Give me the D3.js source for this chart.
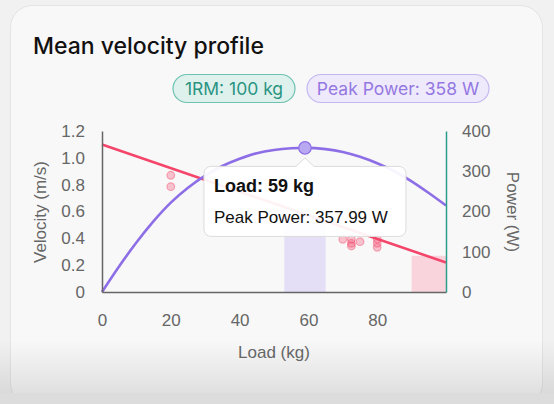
<!DOCTYPE html>
<html>
<head>
<meta charset="utf-8">
<script src="https://cdn.jsdelivr.net/npm/d3@7"></script>
<style>
    html, body { margin: 0; padding: 0; background: #f1f1f1; }
    #chart { width: 554px; height: 404px; }
</style>
</head>
<body>
<div id="chart"></div>
<script>
"use strict"

// chart values
const loadTicks = [0, 20, 40, 60, 80];
const velocityTicks = [0, 0.2, 0.4, 0.6, 0.8, 1.0, 1.2];
const powerTicks = [0, 100, 200, 300, 400];

const fitLoads = [0, 100];
const fitVelocities = [1.10, 0.22];

const powerLoads = [0, 5, 10, 15, 20, 25, 30, 35, 40, 45, 50, 55, 59, 65, 70, 75, 80, 85, 90, 95, 100];
const powerValues = [0, 64, 123, 176, 222, 259, 289, 313, 331, 345, 353, 357, 358, 355, 348, 336, 320, 300, 275, 246, 215];

const repLoads = [20, 20, 70, 72.5, 72.5, 72.5, 75, 80, 80, 80];
const repVelocities = [0.87, 0.785, 0.393, 0.393, 0.363, 0.343, 0.375, 0.393, 0.363, 0.333];

const zoneStarts = [53, 90];
const zoneEnds = [65, 100];
const zoneTops = [0.55, 0.27];
const zoneColors = ["#e4def7", "#f9d4dc"];

const peakLoad = 59;
const peakPower = 357.99;
const badgeLabels = ["1RM: 100 kg", "Peak Power: 358 W"];

let VelocityProfileView = function(targetID) {

    let self = {
        svg: null,
        x: null,
        yV: null,
        yP: null
    };

    init();

    function init() {
        self.svg = d3.select(targetID).append("svg")
            .attr("width", 554)
            .attr("height", 404);

        self.x = d3.scaleLinear().domain([0, 100]).range([102, 446]);
        self.yV = d3.scaleLinear().domain([0, 1.2]).range([292, 131]);
        self.yP = d3.scaleLinear().domain([0, 400]).range([292, 131]);

        drawCard();
        drawBadges();
        drawZones();
        drawLines();
        drawReps();
        drawAxes();
        drawTooltip();
    }

    function drawCard() {
        let defs = self.svg.append("defs");
        let grad = defs.append("linearGradient")
            .attr("id", "fade")
            .attr("x1", 0).attr("y1", 0).attr("x2", 0).attr("y2", 1);
        grad.append("stop").attr("offset", "0%").attr("stop-color", "#000").attr("stop-opacity", 0);
        grad.append("stop").attr("offset", "100%").attr("stop-color", "#000").attr("stop-opacity", 0.1);

        self.svg.append("rect")
            .attr("x", 10.5).attr("y", 5.5)
            .attr("width", 532).attr("height", 400)
            .attr("rx", 22)
            .style("fill", "#f8f8f8")
            .style("stroke", "#e4e4e4");

        self.svg.append("rect")
            .attr("x", 0).attr("y", 340)
            .attr("width", 554).attr("height", 54)
            .style("fill", "url(#fade)");

        self.svg.append("rect")
            .attr("x", 0).attr("y", 393)
            .attr("width", 554).attr("height", 11)
            .style("fill", "#dcdcdc");

        self.svg.append("text")
            .attr("x", 33).attr("y", 54)
            .style("font-family", "Inter, 'Liberation Sans', sans-serif")
            .style("font-size", "23px")
            .style("font-weight", 500)
            .style("fill", "#111")
            .text("Mean velocity profile");
    }

    function drawBadges() {
        let styles = [
            { x: 173, w: 122, fill: "#dff1ec", stroke: "#6cc1b0", color: "#2a9482" },
            { x: 307, w: 182, fill: "#efeafb", stroke: "#c5b6f2", color: "#9478e2" }
        ];
        badgeLabels.forEach(function(label, i) {
            let s = styles[i];
            self.svg.append("rect")
                .attr("x", s.x).attr("y", 74.5)
                .attr("width", s.w).attr("height", 28)
                .attr("rx", 14)
                .style("fill", s.fill)
                .style("stroke", s.stroke)
                .style("stroke-width", "1.2px");
            self.svg.append("text")
                .attr("x", s.x + s.w / 2).attr("y", 95)
                .attr("text-anchor", "middle")
                .style("font-family", "Inter, 'Liberation Sans', sans-serif")
                .style("font-size", "17.5px")
                .style("fill", s.color)
                .text(label);
        });
    }

    function drawZones() {
        zoneStarts.forEach(function(start, i) {
            self.svg.append("rect")
                .attr("x", self.x(start))
                .attr("y", self.yV(zoneTops[i]))
                .attr("width", self.x(zoneEnds[i]) - self.x(start))
                .attr("height", self.yV(0) - self.yV(zoneTops[i]))
                .style("fill", zoneColors[i]);
        });
    }

    function drawLines() {
        let fitData = fitLoads.map((l, i) => [l, fitVelocities[i]]);
        let powerData = powerLoads.map((l, i) => [l, powerValues[i]]);

        self.svg.append("path")
            .attr("d", d3.line()
                .x(d => self.x(d[0]))
                .y(d => self.yV(d[1]))(fitData))
            .style("stroke", "#f4466b")
            .style("stroke-width", "2.6px")
            .style("fill", "none");

        self.svg.append("path")
            .attr("d", d3.line()
                .curve(d3.curveMonotoneX)
                .x(d => self.x(d[0]))
                .y(d => self.yP(d[1]))(powerData))
            .style("stroke", "#8d6ee6")
            .style("stroke-width", "2.6px")
            .style("fill", "none");
    }

    function drawReps() {
        repLoads.forEach(function(l, i) {
            self.svg.append("circle")
                .attr("cx", self.x(l))
                .attr("cy", self.yV(repVelocities[i]))
                .attr("r", 3.8)
                .style("fill", "#f4466b")
                .style("fill-opacity", 0.3)
                .style("stroke", "#f4466b")
                .style("stroke-opacity", 0.45)
                .style("stroke-width", "1.2px");
        });
    }

    function drawAxes() {
        let font = "'Liberation Sans', Arial, sans-serif";

        let xAxis = self.svg.append("g")
            .attr("transform", "translate(0,292)")
            .call(d3.axisBottom(self.x).tickValues(loadTicks).tickSize(0).tickPadding(22).tickSizeOuter(0));
        xAxis.select(".domain").style("stroke", "#666").style("stroke-width", "1.5px");

        let yAxis = self.svg.append("g")
            .attr("transform", "translate(102,0)")
            .call(d3.axisLeft(self.yV).tickValues(velocityTicks).tickSize(0).tickPadding(17).tickSizeOuter(0)
                .tickFormat(d => d === 0 ? "0" : d.toFixed(1)));
        yAxis.select(".domain").style("stroke", "#666").style("stroke-width", "1.5px");

        let pAxis = self.svg.append("g")
            .attr("transform", "translate(446,0)")
            .call(d3.axisRight(self.yP).tickValues(powerTicks).tickSize(0).tickPadding(16).tickSizeOuter(0));
        pAxis.select(".domain").style("stroke", "#2a9d8f").style("stroke-width", "1.5px");

        self.svg.selectAll(".tick text")
            .style("font-family", font)
            .style("font-size", "17px")
            .style("fill", "#666");

        self.svg.append("text")
            .attr("x", 274).attr("y", 358)
            .attr("text-anchor", "middle")
            .style("font-family", font)
            .style("font-size", "17px")
            .style("fill", "#666")
            .text("Load (kg)");

        self.svg.append("text")
            .attr("transform", "translate(46,212) rotate(-90)")
            .attr("text-anchor", "middle")
            .style("font-family", font)
            .style("font-size", "17px")
            .style("fill", "#666")
            .text("Velocity (m/s)");

        self.svg.append("text")
            .attr("transform", "translate(507,212) rotate(90)")
            .attr("text-anchor", "middle")
            .style("font-family", font)
            .style("font-size", "17px")
            .style("fill", "#666")
            .text("Power (W)");
    }

    function drawTooltip() {
        let px = self.x(peakLoad);
        let py = self.yP(peakPower);

        let g = self.svg.append("g")
            .attr("transform", "translate(" + px + "," + py + ")");

        let left = -101, right = 101, top = 18.5, bottom = 88.5, r = 7;
        let path = d3.path();
        path.moveTo(left + r, top);
        path.lineTo(-9, top);
        path.lineTo(0, 10);
        path.lineTo(9, top);
        path.lineTo(right - r, top);
        path.arcTo(right, top, right, top + r, r);
        path.lineTo(right, bottom - r);
        path.arcTo(right, bottom, right - r, bottom, r);
        path.lineTo(left + r, bottom);
        path.arcTo(left, bottom, left, bottom - r, r);
        path.lineTo(left, top + r);
        path.arcTo(left, top, left + r, top, r);
        path.closePath();

        g.append("path")
            .attr("d", path.toString())
            .style("fill", "#fff")
            .style("fill-opacity", 0.93)
            .style("stroke", "#dcdcdc")
            .style("stroke-width", "1px");

        g.append("text")
            .attr("x", left + 10).attr("y", 44.5)
            .style("font-family", "'Liberation Sans', Arial, sans-serif")
            .style("font-size", "18px")
            .style("font-weight", "bold")
            .style("fill", "#111")
            .text("Load: " + peakLoad + " kg");

        g.append("text")
            .attr("x", left + 10).attr("y", 75)
            .style("font-family", "'Liberation Sans', Arial, sans-serif")
            .style("font-size", "17px")
            .style("fill", "#111")
            .text("Peak Power: " + peakPower.toFixed(2) + " W");

        self.svg.append("circle")
            .attr("cx", px).attr("cy", py)
            .attr("r", 6.2)
            .style("fill", "#b9a9f1")
            .style("stroke", "#8d6ee6")
            .style("stroke-width", "1.2px");
    }

    return {};
}

VelocityProfileView("#chart");
</script>
</body>
</html>
